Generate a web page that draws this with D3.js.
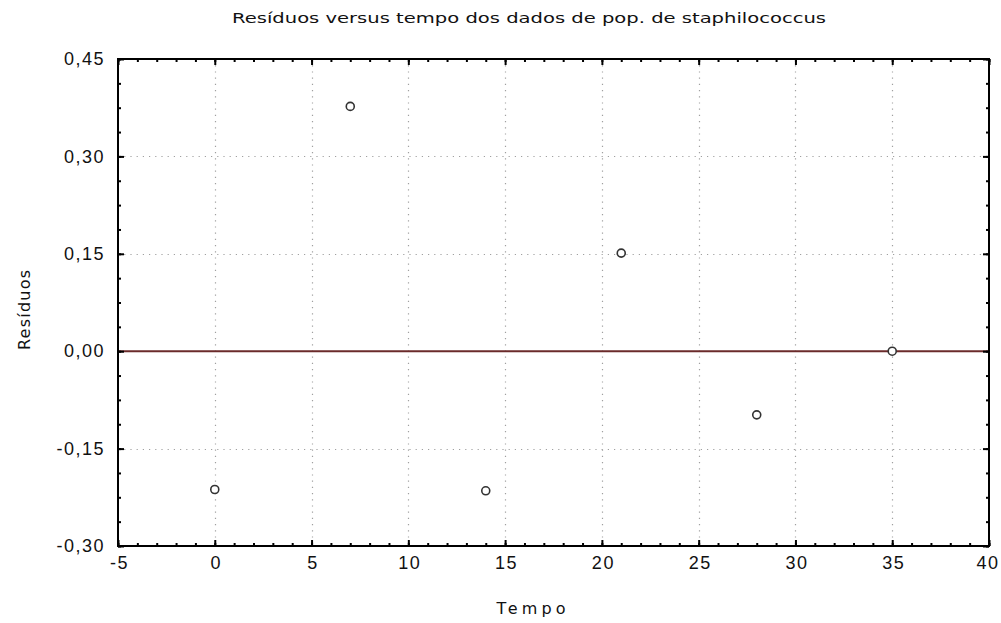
<!DOCTYPE html>
<html><head><meta charset="utf-8">
<script src="https://cdn.jsdelivr.net/npm/d3@7"></script>
<style>body{margin:0;background:#fff;} svg{display:block;}</style>
</head><body>
<script>
const tempo = [0, 7, 14, 21, 28, 35];
const residuos = [-0.213, 0.377, -0.215, 0.151, -0.098, 0.0];
const xTicks = [-5, 0, 5, 10, 15, 20, 25, 30, 35, 40];
const yTicks = [-0.30, -0.15, 0.00, 0.15, 0.30, 0.45];
const title = "Resíduos versus tempo dos dados de pop. de staphilococcus";
const xLabel = "Tempo";
const yLabel = "Resíduos";

const W = 1001, H = 623;
const m = {left: 118, right: 989, top: 59, bottom: 546};
const svg = d3.select("body").append("svg").attr("width", W).attr("height", H);
const x = d3.scaleLinear().domain([-5, 40]).range([m.left, m.right]);
const y = d3.scaleLinear().domain([-0.30, 0.45]).range([m.bottom, m.top]);
const fmtY = d => d3.format(".2f")(d).replace(".", ",").replace("\u2212", "-");
const fmtX = d => d3.format("d")(d).replace("\u2212", "-");

// grid
svg.append("g").selectAll("line").data(xTicks.slice(1, -1)).join("line")
  .attr("x1", d => Math.round(x(d)) + 0.5).attr("x2", d => Math.round(x(d)) + 0.5)
  .attr("y1", m.top).attr("y2", m.bottom)
  .attr("stroke", "#a0a0a0").attr("stroke-width", 1.2).attr("stroke-dasharray", "1.2,5");
svg.append("g").selectAll("line").data(yTicks.slice(1, -1)).join("line")
  .attr("y1", d => Math.round(y(d)) + 0.5).attr("y2", d => Math.round(y(d)) + 0.5)
  .attr("x1", m.left).attr("x2", m.right)
  .attr("stroke", "#a0a0a0").attr("stroke-width", 1.2).attr("stroke-dasharray", "1.2,5");

// zero reference line
svg.append("line").attr("x1", m.left).attr("x2", m.right)
  .attr("y1", y(0)).attr("y2", y(0)).attr("stroke", "#6b2b2b").attr("stroke-width", 2);

// axes with inward ticks
const minorX = d3.range(-5, 40.01, 1);
const minorY = d3.range(-0.30, 0.4501, 0.0375);
svg.append("g").attr("transform", `translate(0,${m.bottom})`)
  .call(d3.axisBottom(x).tickValues(minorX).tickSize(-3).tickFormat(""));
const gx = svg.append("g").attr("transform", `translate(0,${m.bottom})`)
  .call(d3.axisBottom(x).tickValues(xTicks).tickSize(-6).tickPadding(10).tickFormat(fmtX));
svg.append("g").attr("transform", `translate(0,${m.top})`)
  .call(d3.axisTop(x).tickValues(minorX).tickSize(-3).tickFormat(""));
svg.append("g").attr("transform", `translate(0,${m.top})`)
  .call(d3.axisTop(x).tickValues(xTicks).tickSize(-6).tickFormat(""));
svg.append("g").attr("transform", `translate(${m.left},0)`)
  .call(d3.axisLeft(y).tickValues(minorY).tickSize(-3).tickFormat(""));
const gy = svg.append("g").attr("transform", `translate(${m.left},0)`)
  .call(d3.axisLeft(y).tickValues(yTicks).tickSize(-6).tickPadding(13).tickFormat(fmtY));
svg.append("g").attr("transform", `translate(${m.right},0)`)
  .call(d3.axisRight(y).tickValues(minorY).tickSize(-3).tickFormat(""));
svg.append("g").attr("transform", `translate(${m.right},0)`)
  .call(d3.axisRight(y).tickValues(yTicks).tickSize(-6).tickFormat(""));
svg.selectAll(".domain").remove();
svg.selectAll(".tick line").attr("stroke", "#000").attr("stroke-width", 2);
svg.selectAll(".tick text").attr("font-family", "Liberation Sans, Arial, sans-serif")
  .attr("font-size", 18).attr("fill", "#111").attr("letter-spacing", 1.5);
gx.selectAll(".tick text").attr("dx", 1);
gx.selectAll(".tick").filter(d => d === xTicks[xTicks.length - 1]).select("text")
  .attr("text-anchor", "end").attr("dx", 10);

// frame
svg.append("rect").attr("x", m.left).attr("y", m.top)
  .attr("width", m.right - m.left).attr("height", m.bottom - m.top)
  .attr("fill", "none").attr("stroke", "#000").attr("stroke-width", 2);

// points
svg.append("g").selectAll("circle").data(tempo).join("circle")
  .attr("cx", (d) => x(d)).attr("cy", (d, i) => y(residuos[i])).attr("r", 4)
  .attr("fill", "#fff").attr("stroke", "#333").attr("stroke-width", 1.6);

// titles
svg.append("text").attr("x", 529).attr("y", 23).attr("text-anchor", "middle")
  .attr("font-family", "DejaVu Sans, sans-serif").attr("font-size", 14)
  .attr("textLength", 594).attr("lengthAdjust", "spacingAndGlyphs")
  .attr("fill", "#111").text(title);
svg.append("text").attr("x", 531).attr("y", 614).attr("text-anchor", "middle")
  .attr("font-family", "DejaVu Sans, sans-serif").attr("font-size", 16)
  .attr("textLength", 69).attr("lengthAdjust", "spacing").attr("fill", "#111").text(xLabel);
svg.append("text").attr("transform", "translate(30,310) rotate(-90)").attr("text-anchor", "middle")
  .attr("font-family", "DejaVu Sans, sans-serif").attr("font-size", 16)
  .attr("textLength", 80).attr("lengthAdjust", "spacing").attr("fill", "#111").text(yLabel);
</script>
</body></html>
